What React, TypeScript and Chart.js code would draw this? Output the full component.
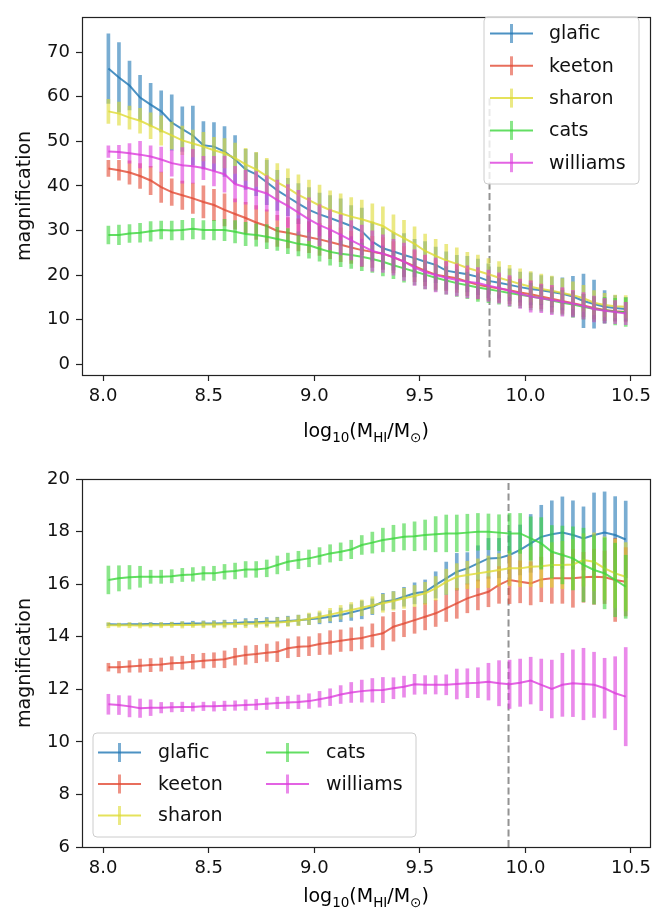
import React, { useEffect, useRef } from 'react';
import { Chart, registerables } from 'chart.js';

Chart.register(...registerables);

const FONT = 'DejaVu Sans';

// log10(M_HI/M_sun) bin centres
const massBins = [
  8.025, 8.075, 8.125, 8.175, 8.225, 8.275, 8.325, 8.375, 8.425, 8.475,
  8.525, 8.575, 8.625, 8.675, 8.725, 8.775, 8.825, 8.875, 8.925, 8.975,
  9.025, 9.075, 9.125, 9.175, 9.225, 9.275, 9.325, 9.375, 9.425, 9.475,
  9.525, 9.575, 9.625, 9.675, 9.725, 9.775, 9.825, 9.875, 9.925, 9.975,
  10.025, 10.075, 10.125, 10.175, 10.225, 10.275, 10.325, 10.375, 10.425, 10.475,
];

const modelNames = ['glafic', 'keeton', 'sharon', 'cats', 'williams'];
const modelColors = ['31,119,180', '226,74,51', '222,219,50', '60,214,60', '220,60,220'];

const xTickValues = [8.0, 8.5, 9.0, 9.5, 10.0, 10.5];
const topYTickValues = [0, 10, 20, 30, 40, 50, 60, 70];
const bottomYTickValues = [6, 8, 10, 12, 14, 16, 18, 20];

// ---------- top panel ----------
const topGlafic = [66.3, 64.3, 62.5, 59.8, 58.2, 56.7, 54.2, 52.7, 51.3, 49.1, 48.8, 47.7, 45.9, 43.7, 42.6, 40.8, 39.0, 37.5, 36.0, 34.6, 33.6, 32.8, 31.9, 31.0, 29.8, 27.5, 26.0, 25.3, 24.5, 23.8, 23.0, 22.3, 21.0, 20.6, 20.2, 19.6, 18.7, 18.3, 17.8, 17.3, 16.9, 16.6, 16.2, 15.8, 15.2, 14.2, 13.5, 12.9, 12.6, 12.4];
const topGlaficErr = [7.8, 7.8, 5.5, 5.0, 4.8, 4.6, 6.2, 5.0, 6.6, 5.3, 5.4, 5.6, 5.4, 4.5, 4.8, 5.0, 4.5, 4.2, 4.5, 5.0, 4.8, 5.0, 5.2, 4.6, 5.2, 4.4, 4.6, 4.2, 4.8, 4.2, 4.5, 4.0, 4.2, 3.8, 4.0, 4.0, 3.8, 3.5, 3.6, 3.4, 3.6, 3.3, 3.4, 3.6, 4.5, 6.0, 5.4, 3.6, 2.8, 2.6];
const topKeeton = [43.9, 43.5, 43.0, 42.2, 41.2, 39.7, 38.6, 37.9, 37.2, 36.4, 35.7, 34.6, 33.7, 32.8, 31.8, 31.0, 29.9, 29.5, 29.0, 28.5, 28.0, 27.4, 26.8, 26.2, 25.6, 25.2, 24.8, 24.0, 23.0, 22.0, 21.0, 20.1, 19.7, 19.3, 18.5, 17.8, 17.4, 17.0, 16.6, 16.1, 15.7, 15.2, 14.7, 14.2, 13.7, 13.2, 12.6, 12.2, 11.9, 11.7];
const topKeetonErr = [1.8, 2.2, 2.6, 2.8, 3.2, 3.4, 3.0, 3.2, 3.4, 3.6, 3.5, 3.6, 3.4, 3.5, 3.8, 3.6, 3.5, 3.4, 3.6, 3.5, 3.6, 3.7, 3.8, 3.6, 3.7, 3.5, 3.6, 3.5, 3.4, 3.5, 3.4, 3.3, 3.2, 3.2, 3.1, 3.2, 3.0, 3.1, 3.0, 2.9, 3.0, 2.8, 2.9, 2.8, 2.7, 2.6, 2.5, 2.4, 2.3, 2.2];
const topSharon = [56.7, 56.2, 55.3, 54.6, 53.5, 52.4, 51.3, 50.2, 49.5, 48.8, 48.0, 47.3, 46.2, 44.8, 43.7, 42.2, 40.8, 39.5, 38.0, 36.8, 35.6, 34.6, 33.8, 33.1, 32.5, 31.8, 31.0, 29.5, 28.3, 27.0, 25.4, 24.3, 23.3, 22.5, 21.6, 20.9, 20.2, 19.4, 18.7, 18.0, 17.4, 16.9, 16.5, 16.0, 15.5, 14.8, 13.8, 13.3, 13.0, 12.9];
const topSharonErr = [2.7, 2.6, 2.6, 2.8, 2.9, 3.3, 3.0, 3.2, 3.0, 3.2, 2.9, 3.3, 3.4, 3.6, 3.8, 4.0, 4.2, 4.3, 4.5, 4.5, 4.6, 4.3, 4.4, 4.3, 4.3, 4.2, 4.3, 4.0, 4.0, 3.8, 3.8, 3.7, 3.6, 3.6, 3.5, 3.6, 3.5, 3.6, 3.5, 3.4, 3.4, 3.3, 3.3, 3.2, 3.0, 2.9, 2.7, 2.6, 2.5, 2.5];
const topCats = [29.0, 29.0, 29.3, 29.5, 29.8, 30.1, 30.0, 30.1, 30.4, 30.1, 30.1, 30.1, 29.7, 29.2, 29.0, 28.6, 28.1, 27.6, 27.0, 26.7, 25.9, 25.2, 24.8, 24.5, 24.1, 23.6, 23.0, 22.2, 21.5, 20.8, 20.1, 19.4, 18.8, 18.2, 17.7, 17.2, 16.8, 16.4, 16.0, 15.6, 15.2, 14.8, 14.3, 13.8, 13.4, 12.9, 12.4, 12.1, 11.8, 11.7];
const topCatsErr = [2.0, 2.2, 2.0, 2.1, 2.2, 2.0, 2.1, 2.2, 2.3, 2.1, 2.2, 2.4, 2.5, 2.6, 2.5, 2.7, 2.6, 2.8, 2.7, 2.9, 2.8, 3.0, 2.9, 3.0, 3.1, 3.0, 3.2, 3.0, 3.1, 3.0, 3.2, 3.0, 3.1, 3.0, 3.0, 3.1, 3.0, 2.9, 3.0, 2.9, 3.0, 2.9, 2.9, 2.8, 2.9, 2.8, 2.8, 2.9, 3.0, 3.2];
const topWilliams = [47.7, 47.6, 47.3, 47.0, 46.6, 45.9, 45.1, 44.6, 44.4, 44.0, 43.3, 42.6, 40.4, 39.7, 39.0, 38.3, 36.8, 35.5, 34.0, 32.5, 31.2, 30.2, 29.0, 27.8, 26.6, 25.4, 24.8, 24.0, 23.0, 21.7, 20.7, 20.0, 19.4, 18.9, 18.5, 18.2, 17.6, 17.1, 16.5, 15.8, 15.2, 14.8, 14.4, 14.0, 13.6, 13.1, 12.4, 12.0, 11.7, 11.4];
const topWilliamsErr = [1.3, 1.5, 2.2, 3.0, 2.4, 2.8, 2.9, 4.0, 3.8, 2.6, 3.3, 4.0, 4.0, 3.8, 4.2, 4.0, 4.5, 4.8, 5.0, 4.8, 4.6, 4.5, 4.5, 4.4, 4.6, 4.5, 4.2, 4.0, 4.2, 4.0, 3.8, 3.8, 3.7, 3.6, 3.6, 3.5, 3.5, 3.4, 3.4, 3.3, 3.5, 3.2, 3.3, 3.2, 3.0, 3.0, 2.9, 2.8, 2.6, 2.5];
const topCutX = 9.83;
const topCutYRange = [1.5, 60];

// ---------- bottom panel ----------
const botGlafic = [14.47, 14.46, 14.47, 14.47, 14.48, 14.47, 14.48, 14.49, 14.5, 14.5, 14.5, 14.51, 14.52, 14.55, 14.55, 14.57, 14.57, 14.6, 14.63, 14.66, 14.7, 14.76, 14.83, 14.92, 15.02, 15.14, 15.33, 15.39, 15.52, 15.65, 15.71, 15.97, 16.22, 16.47, 16.6, 16.79, 16.98, 16.99, 17.11, 17.3, 17.55, 17.8, 17.9, 17.96, 17.87, 17.74, 17.87, 17.96, 17.87, 17.7];
const botGlaficErr = [0.05, 0.04, 0.05, 0.05, 0.06, 0.06, 0.07, 0.08, 0.09, 0.1, 0.11, 0.12, 0.13, 0.14, 0.15, 0.16, 0.17, 0.18, 0.19, 0.2, 0.21, 0.23, 0.26, 0.3, 0.34, 0.3, 0.32, 0.33, 0.36, 0.4, 0.45, 0.5, 0.62, 0.7, 0.6, 0.67, 0.76, 0.75, 0.9, 0.95, 1.1, 1.2, 1.27, 1.36, 1.3, 1.2, 1.6, 1.55, 1.46, 1.46];
const botKeeton = [12.84, 12.84, 12.87, 12.9, 12.92, 12.94, 12.99, 13.01, 13.05, 13.09, 13.11, 13.14, 13.24, 13.3, 13.34, 13.39, 13.43, 13.56, 13.62, 13.64, 13.72, 13.78, 13.85, 13.9, 13.95, 14.05, 14.13, 14.38, 14.5, 14.63, 14.76, 14.89, 15.08, 15.27, 15.46, 15.59, 15.71, 15.97, 16.16, 16.09, 16.03, 16.18, 16.22, 16.22, 16.22, 16.26, 16.28, 16.26, 16.16, 16.09];
const botKeetonErr = [0.15, 0.22, 0.22, 0.25, 0.25, 0.25, 0.25, 0.25, 0.28, 0.28, 0.28, 0.32, 0.32, 0.35, 0.33, 0.33, 0.38, 0.36, 0.38, 0.36, 0.4, 0.45, 0.41, 0.44, 0.42, 0.44, 0.63, 0.55, 0.5, 0.5, 0.5, 0.5, 0.5, 0.57, 0.55, 0.57, 0.57, 0.7, 0.9, 0.8, 0.82, 0.85, 0.95, 0.95, 1.1, 0.95, 1.05, 1.0, 1.58, 1.3];
const botSharon = [14.44, 14.44, 14.44, 14.43, 14.44, 14.44, 14.45, 14.45, 14.45, 14.46, 14.46, 14.47, 14.48, 14.49, 14.5, 14.52, 14.54, 14.57, 14.62, 14.68, 14.76, 14.84, 14.93, 15.02, 15.1, 15.2, 15.27, 15.36, 15.46, 15.55, 15.65, 15.84, 16.09, 16.28, 16.35, 16.41, 16.47, 16.54, 16.6, 16.6, 16.66, 16.68, 16.73, 16.73, 16.75, 16.92, 16.85, 16.6, 16.41, 16.28];
const botSharonErr = [0.1, 0.08, 0.1, 0.1, 0.08, 0.1, 0.1, 0.12, 0.1, 0.12, 0.12, 0.14, 0.14, 0.15, 0.15, 0.16, 0.18, 0.18, 0.2, 0.22, 0.22, 0.24, 0.26, 0.28, 0.3, 0.32, 0.34, 0.35, 0.38, 0.4, 0.42, 0.45, 0.48, 0.5, 0.52, 0.55, 0.6, 0.62, 0.66, 0.7, 0.75, 0.8, 0.85, 0.9, 0.95, 1.0, 1.1, 1.2, 1.3, 1.3];
const botCats = [16.16, 16.22, 16.26, 16.28, 16.28, 16.28, 16.3, 16.35, 16.37, 16.41, 16.41, 16.47, 16.5, 16.56, 16.56, 16.6, 16.73, 16.85, 16.92, 16.98, 17.07, 17.17, 17.23, 17.32, 17.49, 17.58, 17.68, 17.74, 17.8, 17.82, 17.87, 17.9, 17.93, 17.93, 17.96, 17.99, 17.99, 17.96, 17.93, 17.93, 17.74, 17.55, 17.23, 17.11, 16.98, 16.73, 16.54, 16.41, 16.16, 15.9];
const botCatsErr = [0.53, 0.48, 0.45, 0.4, 0.25, 0.25, 0.25, 0.25, 0.26, 0.26, 0.27, 0.28, 0.3, 0.3, 0.3, 0.32, 0.34, 0.33, 0.33, 0.32, 0.32, 0.33, 0.34, 0.35, 0.36, 0.4, 0.45, 0.5, 0.5, 0.55, 0.57, 0.67, 0.7, 0.7, 0.7, 0.7, 0.68, 0.68, 0.76, 0.76, 0.82, 0.98, 1.0, 1.1, 1.2, 1.4, 1.3, 1.35, 1.4, 1.2];
const botWilliams = [11.43, 11.4, 11.35, 11.28, 11.3, 11.3, 11.32, 11.33, 11.33, 11.35, 11.35, 11.37, 11.38, 11.4, 11.42, 11.45, 11.48, 11.5, 11.52, 11.55, 11.62, 11.7, 11.8, 11.88, 11.93, 11.96, 11.97, 12.04, 12.1, 12.19, 12.17, 12.17, 12.17, 12.2, 12.23, 12.25, 12.29, 12.23, 12.19, 12.25, 12.33, 12.17, 12.01, 12.17, 12.23, 12.2, 12.17, 12.04, 11.85, 11.72];
const botWilliamsErr = [0.38, 0.36, 0.4, 0.35, 0.3, 0.2, 0.18, 0.18, 0.16, 0.16, 0.18, 0.18, 0.18, 0.2, 0.2, 0.22, 0.22, 0.24, 0.26, 0.28, 0.3, 0.32, 0.34, 0.38, 0.42, 0.45, 0.48, 0.4, 0.4, 0.38, 0.35, 0.35, 0.38, 0.57, 0.55, 0.57, 0.7, 0.86, 0.92, 0.9, 0.89, 0.98, 1.1, 1.2, 1.27, 1.36, 1.24, 1.14, 1.39, 1.87];
const botCutX = 9.92;
const botCutYRange = [6, 20];

const topSeries = [
  [topGlafic, topGlaficErr],
  [topKeeton, topKeetonErr],
  [topSharon, topSharonErr],
  [topCats, topCatsErr],
  [topWilliams, topWilliamsErr],
];
const botSeries = [
  [botGlafic, botGlaficErr],
  [botKeeton, botKeetonErr],
  [botSharon, botSharonErr],
  [botCats, botCatsErr],
  [botWilliams, botWilliamsErr],
];

const BAR_ALPHA = 0.6;
const LINE_ALPHA = 0.8;

function buildDatasets(series: number[][][], cutX: number, cutY: number[]) {
  const ds: any[] = [
    {
      type: 'line',
      data: [{ x: cutX, y: cutY[0] }, { x: cutX, y: cutY[1] }],
      borderColor: 'rgba(128,128,128,0.85)',
      borderWidth: 2,
      borderDash: [7, 3.5],
      pointRadius: 0,
      order: 100,
    },
  ];
  series.forEach(([vals, errs], k) => {
    const c = modelColors[k];
    ds.push({
      type: 'bar',
      label: modelNames[k] + ' err',
      data: massBins.map((x, i) => ({ x, y: [vals[i] - errs[i], vals[i] + errs[i]] })),
      backgroundColor: `rgba(${c},${BAR_ALPHA})`,
      borderWidth: 0,
      barThickness: 3,
      grouped: false,
      order: 50 - k * 10,
    });
    ds.push({
      type: 'line',
      label: modelNames[k],
      data: massBins.map((x, i) => ({ x, y: vals[i] })),
      borderColor: `rgba(${c},${LINE_ALPHA})`,
      borderWidth: 2,
      pointRadius: 0,
      tension: 0,
      fill: false,
      order: 49 - k * 10,
    });
  });
  return ds;
}

const boxPlugin = {
  id: 'mplBox',
  afterDatasetsDraw(chart: any) {
    const { ctx, chartArea: a } = chart;
    ctx.save();
    ctx.strokeStyle = '#222';
    ctx.lineWidth = 1.2;
    ctx.strokeRect(Math.round(a.left) + 0.5, Math.round(a.top) + 0.5, Math.round(a.right - a.left), Math.round(a.bottom - a.top));
    ctx.restore();
  },
};

const xTitlePlugin = {
  id: 'mplXTitle',
  afterDraw(chart: any, _args: any, opts: any) {
    const { ctx, chartArea: a } = chart;
    const big = 19;
    const small = 13.5;
    const parts = [
      { t: 'log', s: false },
      { t: '10', s: true },
      { t: '(M', s: false },
      { t: 'HI', s: true },
      { t: '/M', s: false },
      { t: '\u2299', s: true },
      { t: ')', s: false },
    ];
    ctx.save();
    ctx.fillStyle = '#000';
    ctx.textBaseline = 'alphabetic';
    ctx.textAlign = 'left';
    let total = 0;
    const widths = parts.map((p) => {
      ctx.font = `${p.s ? small : big}px "${FONT}"`;
      const w = ctx.measureText(p.t).width;
      total += w;
      return w;
    });
    let x = (a.left + a.right) / 2 - total / 2;
    parts.forEach((p, i) => {
      ctx.font = `${p.s ? small : big}px "${FONT}"`;
      ctx.fillText(p.t, x, opts.baseline + (p.s ? 4.5 : 0));
      x += widths[i];
    });
    ctx.restore();
  },
};

const legendPlugin = {
  id: 'mplLegend',
  afterDraw(chart: any, _args: any, o: any) {
    const { ctx } = chart;
    ctx.save();
    const r = 4;
    const { left, top, width, height } = o;
    ctx.beginPath();
    ctx.moveTo(left + r, top);
    ctx.arcTo(left + width, top, left + width, top + height, r);
    ctx.arcTo(left + width, top + height, left, top + height, r);
    ctx.arcTo(left, top + height, left, top, r);
    ctx.arcTo(left, top, left + width, top, r);
    ctx.closePath();
    ctx.fillStyle = 'rgba(255,255,255,0.8)';
    ctx.fill();
    ctx.strokeStyle = 'rgba(204,204,204,1)';
    ctx.lineWidth = 1;
    ctx.stroke();
    ctx.font = `19px "${FONT}"`;
    ctx.textBaseline = 'middle';
    ctx.textAlign = 'left';
    modelNames.forEach((name, k) => {
      const col = Math.floor(k / o.perCol);
      const row = k % o.perCol;
      const cy = o.rowStart + row * o.rowStep;
      const hx = o.cols[col].handleX;
      const tx = o.cols[col].textX;
      const c = modelColors[k];
      ctx.strokeStyle = `rgba(${c},${LINE_ALPHA})`;
      ctx.lineWidth = 2;
      ctx.beginPath();
      ctx.moveTo(hx, cy);
      ctx.lineTo(hx + 43, cy);
      ctx.stroke();
      ctx.strokeStyle = `rgba(${c},${BAR_ALPHA})`;
      ctx.lineWidth = 3;
      ctx.beginPath();
      ctx.moveTo(hx + 21.5, cy - 9.5);
      ctx.lineTo(hx + 21.5, cy + 9.5);
      ctx.stroke();
      ctx.fillStyle = '#111';
      ctx.fillText(name, tx, cy + 1);
    });
    ctx.restore();
  },
};

function makeConfig(p: any) {
  return {
    type: 'line',
    data: { datasets: buildDatasets(p.series, p.cutX, p.cutY) },
    options: {
      animation: false,
      responsive: false,
      devicePixelRatio: 1,
      layout: { padding: { left: 0, top: p.padTop, right: 20, bottom: 0 } },
      plugins: {
        legend: { display: false },
        tooltip: { enabled: false },
        mplLegend: p.legend,
        mplXTitle: { baseline: p.titleBaseline },
      },
      scales: {
        x: {
          type: 'linear',
          min: 7.9,
          max: 10.59,
          offset: false,
          afterBuildTicks: (s: any) => {
            s.ticks = xTickValues.map((v) => ({ value: v }));
          },
          afterFit: (s: any) => {
            s.height = p.xAxisH;
          },
          ticks: {
            autoSkip: false,
            maxRotation: 0,
            color: '#111',
            padding: 5,
            font: { family: FONT, size: 18 },
            callback: (v: any) => Number(v).toFixed(1),
          },
          grid: { display: true, offset: false, drawOnChartArea: false, drawTicks: true, tickLength: 6, tickColor: '#222', tickWidth: 1.2 },
          border: { display: false },
        },
        y: {
          type: 'linear',
          min: p.yMin,
          max: p.yMax,
          afterBuildTicks: (s: any) => {
            s.ticks = p.yTicks.map((v: number) => ({ value: v }));
          },
          afterFit: (s: any) => {
            s.width = 82;
          },
          ticks: {
            autoSkip: false,
            color: '#111',
            padding: 6,
            font: { family: FONT, size: 18 },
            callback: (v: any) => String(v),
          },
          grid: { display: true, drawOnChartArea: false, drawTicks: true, tickLength: 6, tickColor: '#222', tickWidth: 1.2 },
          border: { display: false },
          title: {
            display: true,
            text: 'magnification',
            color: '#111',
            font: { family: FONT, size: 19 },
            padding: { top: 14, bottom: 0 },
          },
        },
      },
    },
    plugins: [boxPlugin, legendPlugin, xTitlePlugin],
  };
}

const topPanel = {
  series: topSeries,
  cutX: topCutX,
  cutY: topCutYRange,
  padTop: 6,
  xAxisH: 85,
  yMin: -2.4,
  yMax: 77.9,
  yTicks: topYTickValues,
  titleBaseline: 437,
  legend: {
    left: 484,
    top: 17,
    width: 155,
    height: 167,
    perCol: 5,
    rowStart: 33.5,
    rowStep: 32.3,
    cols: [{ handleX: 490, textX: 549 }],
  },
};

const bottomPanel = {
  series: botSeries,
  cutX: botCutX,
  cutY: botCutYRange,
  padTop: 19,
  xAxisH: 70,
  yMin: 6,
  yMax: 20,
  yTicks: bottomYTickValues,
  titleBaseline: 442,
  legend: {
    left: 93,
    top: 273,
    width: 323,
    height: 104,
    perCol: 3,
    rowStart: 292.5,
    rowStep: 31.5,
    cols: [
      { handleX: 98, textX: 158 },
      { handleX: 266, textX: 326 },
    ],
  },
};

function Panel({ panel, top, height }: { panel: any; top: number; height: number }) {
  const ref = useRef<HTMLCanvasElement>(null);
  useEffect(() => {
    const chart = new Chart(ref.current as HTMLCanvasElement, makeConfig(panel) as any);
    return () => chart.destroy();
  }, [panel]);
  return (
    <div style={{ position: 'absolute', left: 0, top, width: 670, height }}>
      <canvas ref={ref} width={670} height={height} style={{ display: 'block' }} />
    </div>
  );
}

export default function App() {
  return (
    <div style={{ position: 'absolute', left: 0, top: 0, width: 670, height: 917, background: '#fff' }}>
      <Panel panel={topPanel} top={0} height={460} />
      <Panel panel={bottomPanel} top={460} height={457} />
    </div>
  );
}
